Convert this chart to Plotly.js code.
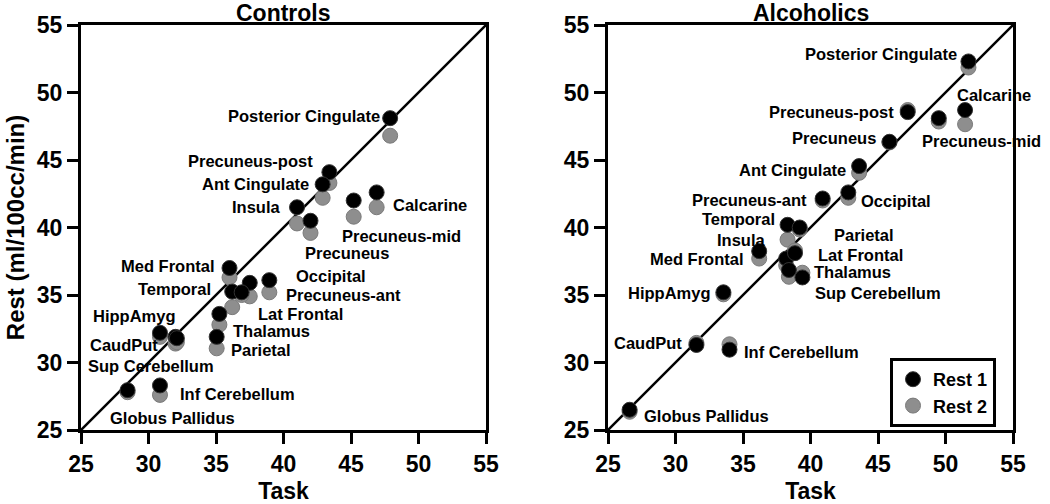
<!DOCTYPE html>
<html>
<head>
<meta charset="utf-8">
<script src="https://cdn.plot.ly/plotly-3.0.1.min.js"></script>
<style>html,body{margin:0;padding:0;background:#fff}#chart{width:1050px;height:504px}</style>
</head>
<body>
<div id="chart"></div>
<script>
// ---------- DATA ----------
const regionsC = ["Posterior Cingulate","Precuneus-post","Ant Cingulate","Insula","Calcarine","Precuneus-mid","Precuneus","Med Frontal","Temporal","Occipital","Precuneus-ant","Lat Frontal","HippAmyg","Thalamus","CaudPut","Parietal","Sup Cerebellum","Inf Cerebellum","Globus Pallidus"];
const taskC  = [47.9, 43.4, 42.9, 41.0, 46.9, 45.2, 42.0, 36.0, 36.2, 38.95, 37.5, 36.9, 30.85, 35.25, 32.0, 35.05, 32.1, 30.85, 28.45];
const rest1C = [48.1, 44.1, 43.2, 41.5, 42.6, 42.0, 40.5, 37.0, 35.25, 36.1, 35.9, 35.2, 32.2, 33.6, 31.9, 31.9, 31.8, 28.3, 27.95];
const rest2C = [46.8, 43.3, 42.2, 40.3, 41.5, 40.8, 39.6, 36.3, 34.1, 35.2, 34.9, 35.0, 31.9, 32.8, 31.4, 31.05, 31.5, 27.6, 27.8];

const regionsA = ["Posterior Cingulate","Calcarine","Precuneus-post","Precuneus","Precuneus-mid","Ant Cingulate","Precuneus-ant","Occipital","Temporal","Insula","Parietal","Med Frontal","Lat Frontal","Thalamus","Sup Cerebellum","HippAmyg","CaudPut","Inf Cerebellum","Globus Pallidus"];
const taskA  = [51.7, 51.45, 47.2, 45.85, 49.5, 43.6, 40.9, 42.8, 38.3, 38.2, 39.2, 36.2, 38.85, 38.4, 39.4, 33.55, 31.55, 34.0, 26.6];
const rest1A = [52.3, 48.7, 48.55, 46.35, 48.1, 44.55, 42.15, 42.6, 40.2, 37.7, 40.0, 38.25, 38.1, 36.85, 36.3, 35.2, 31.3, 30.95, 26.5];
const rest2A = [51.85, 47.65, 48.7, 46.3, 47.85, 44.05, 42.0, 42.2, 39.1, 37.2, 39.85, 37.7, 38.3, 36.35, 36.65, 35.05, 31.45, 31.35, 26.35];

const identityLine = [25, 55];
const axisTicks = [25, 30, 35, 40, 45, 50, 55];
const seriesNames = ["Rest 1", "Rest 2"];
const panelTitles = ["Controls", "Alcoholics"];
const xTitle = "Task";
const yTitle = "Rest (ml/100cc/min)";

// ---------- LABEL PLACEMENT (anchor, xshift px, yshift px) ----------
const labelPosC = [
  ["right",-9,2],["right",-15,11],["right",-13,0],["right",-15,0],["left",15,-13],["left",-13,-35],["left",-7,-32],
  ["right",-14,2],["right",-20,3],["left",26,4],["left",35,-12],["left",15,-22],["right",17,17],["left",13,-17],
  ["right",-17,-8],["left",13,-13],["left",-90,-28],["left",19,-9],["left",-19,-28]
];
const labelPosA = [
  ["right",-10,7],["left",-9,15],["right",-13,0],["right",-12,4],["left",-18,-23],["right",-12,-4],["right",-15,-2],
  ["left",12,-9],["right",-12,6],["right",-19,19],["left",33,-7],["right",-14,-8],["left",22,-2],["left",24,-2],
  ["left",12,-16],["right",-11,-1],["right",-13,2],["left",13,-2],["left",13,-6]
];

// ---------- STYLE ----------
const FONT = "Liberation Sans, Arial, Helvetica, sans-serif";
const BLACK = "#000000";
const GRAY = "#8e8e8e";
const MSIZE = 15;

function pointTraces(task, r1, r2, xa, ya, showLegend) {
  return [
    {x: identityLine, y: identityLine, xaxis: xa, yaxis: ya, mode: "lines",
     line: {color: BLACK, width: 2.5}, showlegend: false, hoverinfo: "skip"},
    {x: task, y: r2, xaxis: xa, yaxis: ya, mode: "markers", name: seriesNames[1],
     marker: {color: GRAY, size: MSIZE, line: {color: "#7a7a7a", width: 1}},
     showlegend: showLegend, legendrank: 2},
    {x: task, y: r1, xaxis: xa, yaxis: ya, mode: "markers", name: seriesNames[0],
     marker: {color: BLACK, size: MSIZE, line: {color: "#333333", width: 1}},
     showlegend: showLegend, legendrank: 1}
  ];
}

const data = [
  ...pointTraces(taskC, rest1C, rest2C, "x", "y", false),
  ...pointTraces(taskA, rest1A, rest2A, "x2", "y2", true)
];

function labelAnns(regions, task, r1, pos, xref, yref) {
  return regions.map((r, i) => ({
    text: r, x: task[i], y: r1[i], xref: xref, yref: yref, showarrow: false,
    xanchor: pos[i][0], yanchor: "middle", xshift: pos[i][1], yshift: pos[i][2],
    borderpad: 0,
    font: {family: FONT, size: 16.5, color: BLACK, weight: "bold"}
  }));
}

const yTop = 1 - 25/504, yBot = 1 - 430/504;
function axisBase(domain) {
  return {
    domain: domain, range: [25, 55], tickvals: axisTicks, ticktext: axisTicks.map(String),
    showline: true, linewidth: 3, linecolor: BLACK, mirror: true,
    ticks: "outside", ticklen: 11, tickwidth: 3, tickcolor: BLACK,
    showgrid: false, zeroline: false, fixedrange: true,
    tickfont: {family: FONT, size: 23, color: BLACK, weight: "bold"}
  };
}

const xTitleObj = {text: xTitle, font: {family: FONT, size: 23, color: BLACK, weight: "bold"}, standoff: 10};

const layout = {
  width: 1050, height: 504,
  margin: {l: 0, r: 0, t: 0, b: 0},
  paper_bgcolor: "#ffffff", plot_bgcolor: "#ffffff",
  showlegend: true,
  xaxis: Object.assign(axisBase([81/1050, 486/1050]), {anchor: "y", title: xTitleObj}),
  yaxis: Object.assign(axisBase([yBot, yTop]), {anchor: "x",
    title: {text: yTitle, font: {family: FONT, size: 24, color: BLACK, weight: "bold"}, standoff: 6}}),
  xaxis2: Object.assign(axisBase([608/1050, 1013/1050]), {anchor: "y2", title: xTitleObj}),
  yaxis2: Object.assign(axisBase([yBot, yTop]), {anchor: "x2"}),
  legend: {
    x: 890/1050, y: 1 - 358/504, xanchor: "left", yanchor: "top",
    bgcolor: "#ffffff", bordercolor: BLACK, borderwidth: 3,
    font: {family: FONT, size: 18, color: BLACK, weight: "bold"},
    traceorder: "normal", itemwidth: 30
  },
  annotations: [
    {text: panelTitles[0], xref: "paper", yref: "paper", x: 283.5/1050, y: 1 - 13/504,
     xanchor: "center", yanchor: "middle", showarrow: false,
     font: {family: FONT, size: 23, color: BLACK, weight: "bold"}},
    {text: panelTitles[1], xref: "paper", yref: "paper", x: 810.5/1050, y: 1 - 13/504,
     xanchor: "center", yanchor: "middle", showarrow: false,
     font: {family: FONT, size: 23, color: BLACK, weight: "bold"}},
    ...labelAnns(regionsC, taskC, rest1C, labelPosC, "x", "y"),
    ...labelAnns(regionsA, taskA, rest1A, labelPosA, "x2", "y2")
  ]
};

Plotly.newPlot("chart", data, layout, {staticPlot: true, displayModeBar: false});
</script>
</body>
</html>
